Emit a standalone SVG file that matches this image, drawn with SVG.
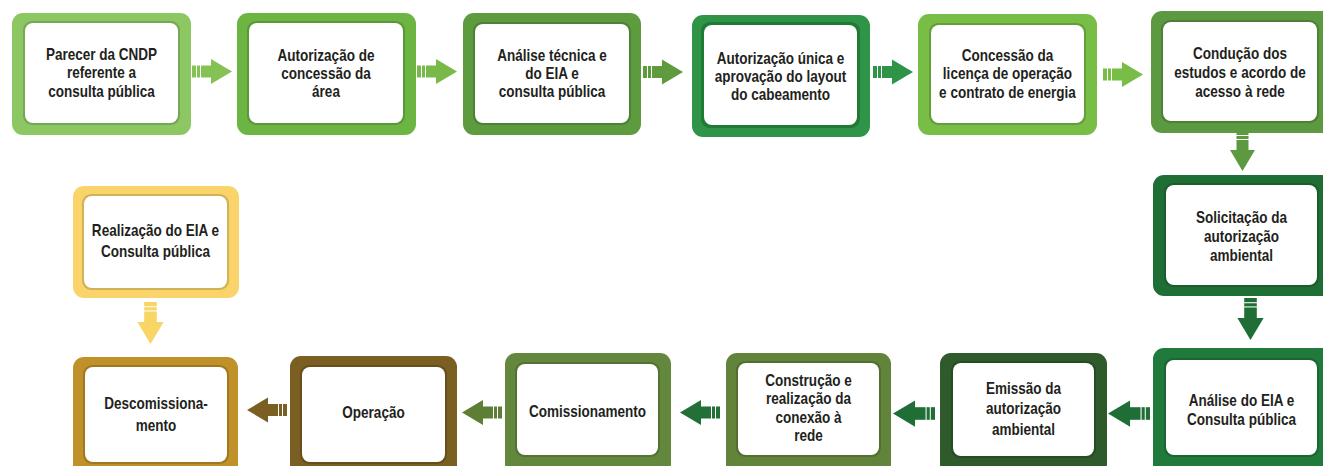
<svg xmlns="http://www.w3.org/2000/svg" xmlns:xlink="http://www.w3.org/1999/xlink" width="1323" height="466" viewBox="0 0 1323 466">
<style>
.t{font-family:"Liberation Sans",Arial,sans-serif;font-weight:bold;font-size:16.5px;fill:#231f20;text-anchor:middle}
.in{fill:#ffffff}
.sh{fill:#000000;fill-opacity:0.16}
</style>
<defs>
<g id="arr">
<rect x="0" y="-6" width="4" height="12"/>
<rect x="5" y="-6" width="3" height="12"/>
<rect x="9" y="-6" width="11" height="12"/>
<polygon points="19,-12.5 40,0 19,12.5"/>
</g>
</defs>
<rect width="1323" height="466" fill="#ffffff"/>

<g id="connectors">
<use xlink:href="#arr" transform="translate(192,71.5)" fill="#84c256"/>
<use xlink:href="#arr" transform="translate(417,71.5)" fill="#78b94a"/>
<use xlink:href="#arr" transform="translate(643,72)" fill="#5e9a3e"/>
<use xlink:href="#arr" transform="translate(873,72)" fill="#2f9447"/>
<use xlink:href="#arr" transform="translate(1103,74.5)" fill="#77bd46"/>
<use xlink:href="#arr" transform="translate(1242.5,131) rotate(90)" fill="#5c9940"/>
<use xlink:href="#arr" transform="translate(1250.5,298) rotate(90) scale(1.05,1.05)" fill="#1f6e35"/>
<use xlink:href="#arr" transform="translate(1150,413.5) scale(-1.05,1.05)" fill="#1f6e35"/>
<use xlink:href="#arr" transform="translate(935,413.5) scale(-1.05,1.05)" fill="#1f6e35"/>
<use xlink:href="#arr" transform="translate(720,412.5) scale(-1,1)" fill="#226f37"/>
<use xlink:href="#arr" transform="translate(502,412.5) scale(-1,1)" fill="#5e7e35"/>
<use xlink:href="#arr" transform="translate(287,410) scale(-1,1)" fill="#7b5f22"/>
<use xlink:href="#arr" transform="translate(150.5,302) rotate(90) scale(1.05,1.05)" fill="#f9d565"/>
</g>

<g id="n1">
<rect x="12" y="13" width="179" height="122" rx="11" fill="#8dc763"/>
<rect class="sh" x="23" y="21" width="157" height="104" rx="9"/>
<rect class="in" x="25" y="23" width="153" height="100" rx="8"/>
<g transform="translate(101.5,0) scale(0.82,1)">
<text class="t" x="0" y="60">Parecer da CNDP</text>
<text class="t" x="0" y="78.5">referente a</text>
<text class="t" x="0" y="97">consulta pública</text>
</g>
</g>
<g id="n2">
<rect x="237" y="13" width="179" height="122" rx="11" fill="#6cb543"/>
<rect class="sh" x="247" y="21" width="158" height="104" rx="9"/>
<rect class="in" x="249" y="23" width="154" height="100" rx="8"/>
<g transform="translate(326,0) scale(0.82,1)">
<text class="t" x="0" y="61">Autorização de</text>
<text class="t" x="0" y="79">concessão da</text>
<text class="t" x="0" y="97">área</text>
</g>
</g>
<g id="n3">
<rect x="463" y="13" width="178" height="122" rx="11" fill="#5e9a3e"/>
<rect class="sh" x="473" y="22" width="158" height="103" rx="9"/>
<rect class="in" x="475" y="24" width="154" height="99" rx="8"/>
<g transform="translate(552,0) scale(0.82,1)">
<text class="t" x="0" y="61">Análise técnica e</text>
<text class="t" x="0" y="79">do EIA e</text>
<text class="t" x="0" y="97">consulta pública</text>
</g>
</g>
<g id="n4">
<rect x="692" y="15" width="178" height="122" rx="11" fill="#2f9447"/>
<rect x="701" y="22" width="159" height="106" rx="9" fill="#1f7a35"/>
<rect class="in" x="704" y="25" width="153" height="100" rx="8"/>
<g transform="translate(780.5,0) scale(0.82,1)">
<text class="t" x="0" y="64">Autorização única e</text>
<text class="t" x="0" y="82">aprovação do layout</text>
<text class="t" x="0" y="100">do cabeamento</text>
</g>
</g>
<g id="n5">
<rect x="918" y="14" width="179" height="121" rx="11" fill="#77bd46"/>
<rect class="sh" x="929" y="23" width="157" height="102" rx="9"/>
<rect class="in" x="931" y="25" width="153" height="98" rx="8"/>
<g transform="translate(1007.5,0) scale(0.82,1)">
<text class="t" x="0" y="61">Concessão da</text>
<text class="t" x="0" y="79">licença de operação</text>
<text class="t" x="0" y="98">e contrato de energia</text>
</g>
</g>
<g id="n6">
<rect x="1151" y="11" width="185" height="122" rx="11" fill="#5c9940"/>
<rect class="sh" x="1161" y="20" width="158" height="103" rx="9"/>
<rect class="in" x="1163" y="22" width="154" height="99" rx="8"/>
<g transform="translate(1240,0) scale(0.82,1)">
<text class="t" x="0" y="59">Condução dos</text>
<text class="t" x="0" y="78">estudos e acordo de</text>
<text class="t" x="0" y="97">acesso à rede</text>
</g>
</g>
<g id="n7">
<rect x="1153" y="175" width="183" height="121" rx="11" fill="#1f6e35"/>
<rect class="sh" x="1164" y="183" width="155" height="104" rx="9"/>
<rect class="in" x="1166" y="185" width="151" height="100" rx="8"/>
<g transform="translate(1241.5,0) scale(0.82,1)">
<text class="t" x="0" y="223">Solicitação da</text>
<text class="t" x="0" y="242">autorização</text>
<text class="t" x="0" y="261">ambiental</text>
</g>
</g>
<g id="n8">
<rect x="1153" y="348" width="183" height="128" rx="11" fill="#207a3b"/>
<rect class="sh" x="1164" y="358" width="155" height="99" rx="9"/>
<rect class="in" x="1166" y="360" width="151" height="95" rx="8"/>
<g transform="translate(1241.5,0) scale(0.82,1)">
<text class="t" x="0" y="406">Análise do EIA e</text>
<text class="t" x="0" y="425">Consulta pública</text>
</g>
</g>
<g id="n9">
<rect x="940" y="353" width="167" height="122" rx="11" fill="#2f5a2b"/>
<rect class="sh" x="951" y="361" width="145" height="97" rx="9"/>
<rect class="in" x="953" y="363" width="141" height="93" rx="8"/>
<g transform="translate(1023.5,0) scale(0.82,1)">
<text class="t" x="0" y="394">Emissão da</text>
<text class="t" x="0" y="414.5">autorização</text>
<text class="t" x="0" y="435">ambiental</text>
</g>
</g>
<g id="n10">
<rect x="726" y="353" width="165" height="122" rx="11" fill="#62843a"/>
<rect class="sh" x="736" y="361" width="145" height="96" rx="9"/>
<rect class="in" x="738" y="363" width="141" height="92" rx="8"/>
<g transform="translate(808.5,0) scale(0.82,1)">
<text class="t" x="0" y="386">Construção e</text>
<text class="t" x="0" y="404.5">realização da</text>
<text class="t" x="0" y="423">conexão à</text>
<text class="t" x="0" y="441.5">rede</text>
</g>
</g>
<g id="n11">
<rect x="505" y="353" width="166" height="122" rx="11" fill="#63883d"/>
<rect class="sh" x="515" y="362" width="145" height="95" rx="9"/>
<rect class="in" x="517" y="364" width="141" height="91" rx="8"/>
<g transform="translate(587.5,0) scale(0.82,1)">
<text class="t" x="0" y="417">Comissionamento</text>
</g>
</g>
<g id="n12">
<rect x="290" y="356" width="167" height="120" rx="11" fill="#7b5f22"/>
<rect class="sh" x="300" y="365" width="147" height="99" rx="9"/>
<rect class="in" x="302" y="367" width="143" height="95" rx="8"/>
<g transform="translate(373.5,0) scale(0.82,1)">
<text class="t" x="0" y="418">Operação</text>
</g>
</g>
<g id="n13">
<rect x="73" y="357" width="165" height="119" rx="11" fill="#c09029"/>
<rect class="sh" x="83" y="365" width="146" height="99" rx="9"/>
<rect class="in" x="85" y="367" width="142" height="95" rx="8"/>
<g transform="translate(156,0) scale(0.82,1)">
<text class="t" x="0" y="409">Descomissiona-</text>
<text class="t" x="0" y="431">mento</text>
</g>
</g>
<g id="n14">
<rect x="73" y="186" width="166" height="112" rx="11" fill="#fad46a"/>
<rect class="sh" x="82" y="194" width="147" height="96" rx="9"/>
<rect class="in" x="84" y="196" width="143" height="92" rx="8"/>
<g transform="translate(155.5,0) scale(0.82,1)">
<text class="t" x="0" y="236">Realização do EIA e</text>
<text class="t" x="0" y="257">Consulta pública</text>
</g>
</g>
</svg>
